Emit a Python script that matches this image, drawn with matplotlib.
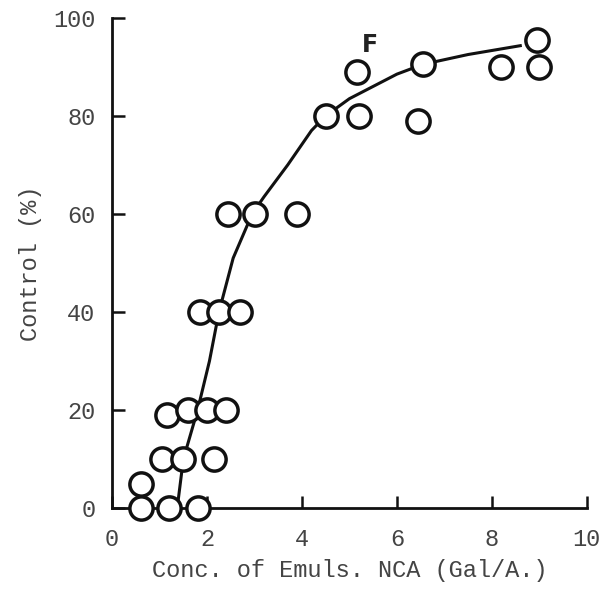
import matplotlib.pyplot as plt

# observed points (conc. Gal/A, control %)
conc = [0.6, 1.2, 1.8, 0.6,
        1.05, 1.5, 2.15,
        1.15, 1.6, 2.0, 2.4,
        1.85, 2.25, 2.7,
        2.45, 3.0, 3.9,
        4.5, 5.2, 6.45,
        5.15, 6.55, 8.2, 9.0,
        8.95]
control = [0, 0, 0, 5,
           10, 10, 10,
           19, 20, 20, 20,
           40, 40, 40,
           60, 60, 60,
           80, 80, 79,
           89, 90.5, 90, 90,
           95.5]

# hand-drawn curve
curve_x = [1.37, 1.5, 1.8, 2.05, 2.25, 2.55, 2.95, 3.2, 3.7, 4.2, 4.5,
           5.0, 5.5, 6.0, 6.55, 7.5, 8.6]
curve_y = [0, 10, 20, 30, 40, 51, 60, 63.5, 70, 77, 80,
           83.5, 86, 88.5, 90.5, 92.5, 94.3]

plt.rcParams['font.family'] = ['Liberation Mono', 'DejaVu Sans Mono']

fig = plt.figure(figsize=(6.03, 5.91), dpi=100)
ax = fig.add_axes([0.186, 0.14, 0.787, 0.83])

ax.plot(curve_x, curve_y, color='#111111', lw=2.2, zorder=2)
ax.scatter(conc, control, s=280, facecolors='white', edgecolors='#111111',
           linewidths=2.5, clip_on=False, zorder=3)

ax.text(5.43, 94.5, 'F', fontsize=17, fontweight='bold', family='DejaVu Sans',
        color='#222222', ha='center', va='center')

ax.set_xlim(0, 10)
ax.set_ylim(0, 100)
ax.spines['top'].set_visible(False)
ax.spines['right'].set_visible(False)
for s in ['left', 'bottom']:
    ax.spines[s].set_linewidth(2)
    ax.spines[s].set_color('#111111')

ax.set_xticks([0, 2, 4, 6, 8, 10])
ax.set_yticks([0, 20, 40, 60, 80, 100])
ax.tick_params(direction='in', length=9, width=1.8, color='#111111',
               labelsize=17, labelcolor='#444444')
ax.tick_params(axis='x', pad=14)
ax.tick_params(axis='y', pad=12)

ax.set_xlabel('Conc. of Emuls. NCA (Gal/A.)', fontsize=17, color='#444444', labelpad=6)
ax.set_ylabel('Control (%)', fontsize=17, color='#444444', labelpad=8)

plt.savefig('out.png', dpi=100)
